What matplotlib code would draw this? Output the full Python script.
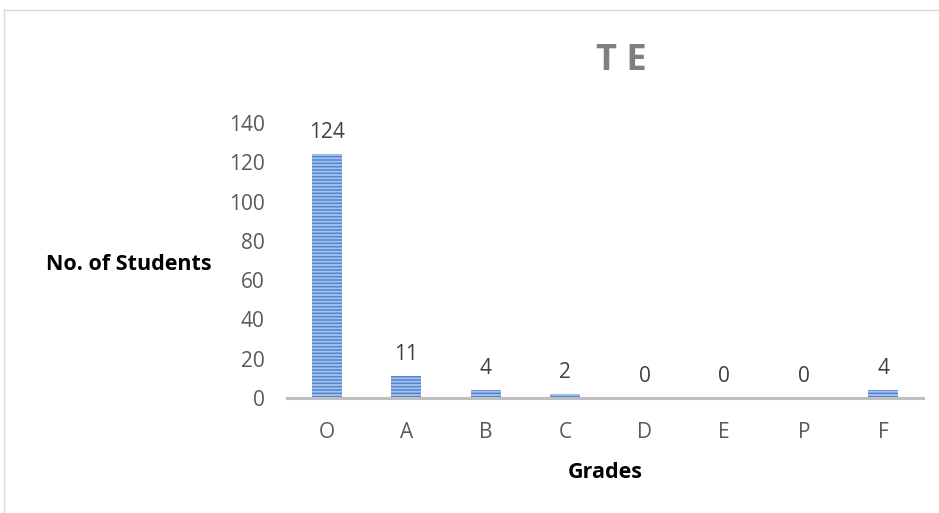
import matplotlib.pyplot as plt
from matplotlib.lines import Line2D

grades = ["O", "A", "B", "C", "D", "E", "P", "F"]
students = [124, 11, 4, 2, 0, 0, 0, 4]
y_ticks = [0, 20, 40, 60, 80, 100, 120, 140]

plt.rcParams["font.family"] = ["Open Sans", "DejaVu Sans"]
plt.rcParams["hatch.linewidth"] = 1.3

fig = plt.figure(figsize=(9.39, 5.13), dpi=100)
ax = fig.add_axes([287 / 939, 1 - 398 / 513, (923 - 287) / 939, (398 - 123) / 513])

x = range(len(grades))
ax.bar(x, students, width=0.38, color="#5285d2", edgecolor="#a6c2ec",
       linewidth=0, hatch="-----")

for xi, v in zip(x, students):
    ax.annotate(str(v), (xi, v), xytext=(0, 8), textcoords="offset points",
                ha="center", va="bottom", fontsize=15, color="#404040")

ax.set_xlim(-0.5, len(grades) - 0.5)
ax.set_ylim(0, 140)
ax.set_yticks(y_ticks)
ax.set_xticks(list(x))
ax.set_xticklabels(grades)
ax.tick_params(axis="both", length=0, labelsize=15, labelcolor="#595959")
ax.tick_params(axis="y", pad=16)
ax.tick_params(axis="x", pad=17)

for side in ["top", "right", "left"]:
    ax.spines[side].set_visible(False)
ax.spines["bottom"].set_color("#bfbfbf")
ax.spines["bottom"].set_linewidth(2.2)

fig.text(621 / 939, 1 - 61 / 513, "T E", ha="center", va="center",
         fontsize=26, fontweight="bold", color="#7f7f7f")
fig.text(129 / 939, 1 - 264 / 513, "No. of Students", ha="center", va="center",
         fontsize=15.5, fontweight="bold", color="black")
fig.text(605 / 939, 1 - 472 / 513, "Grades", ha="center", va="center",
         fontsize=15.5, fontweight="bold", color="black")

# chart border (top and left visible in the crop)
fig.add_artist(Line2D([4 / 939, 4 / 939], [0, 1 - 10 / 513],
                      transform=fig.transFigure, color="#d9d9d9", linewidth=1))
fig.add_artist(Line2D([4 / 939, 1], [1 - 10 / 513, 1 - 10 / 513],
                      transform=fig.transFigure, color="#d9d9d9", linewidth=1))

fig.savefig("out.png", dpi=100)
